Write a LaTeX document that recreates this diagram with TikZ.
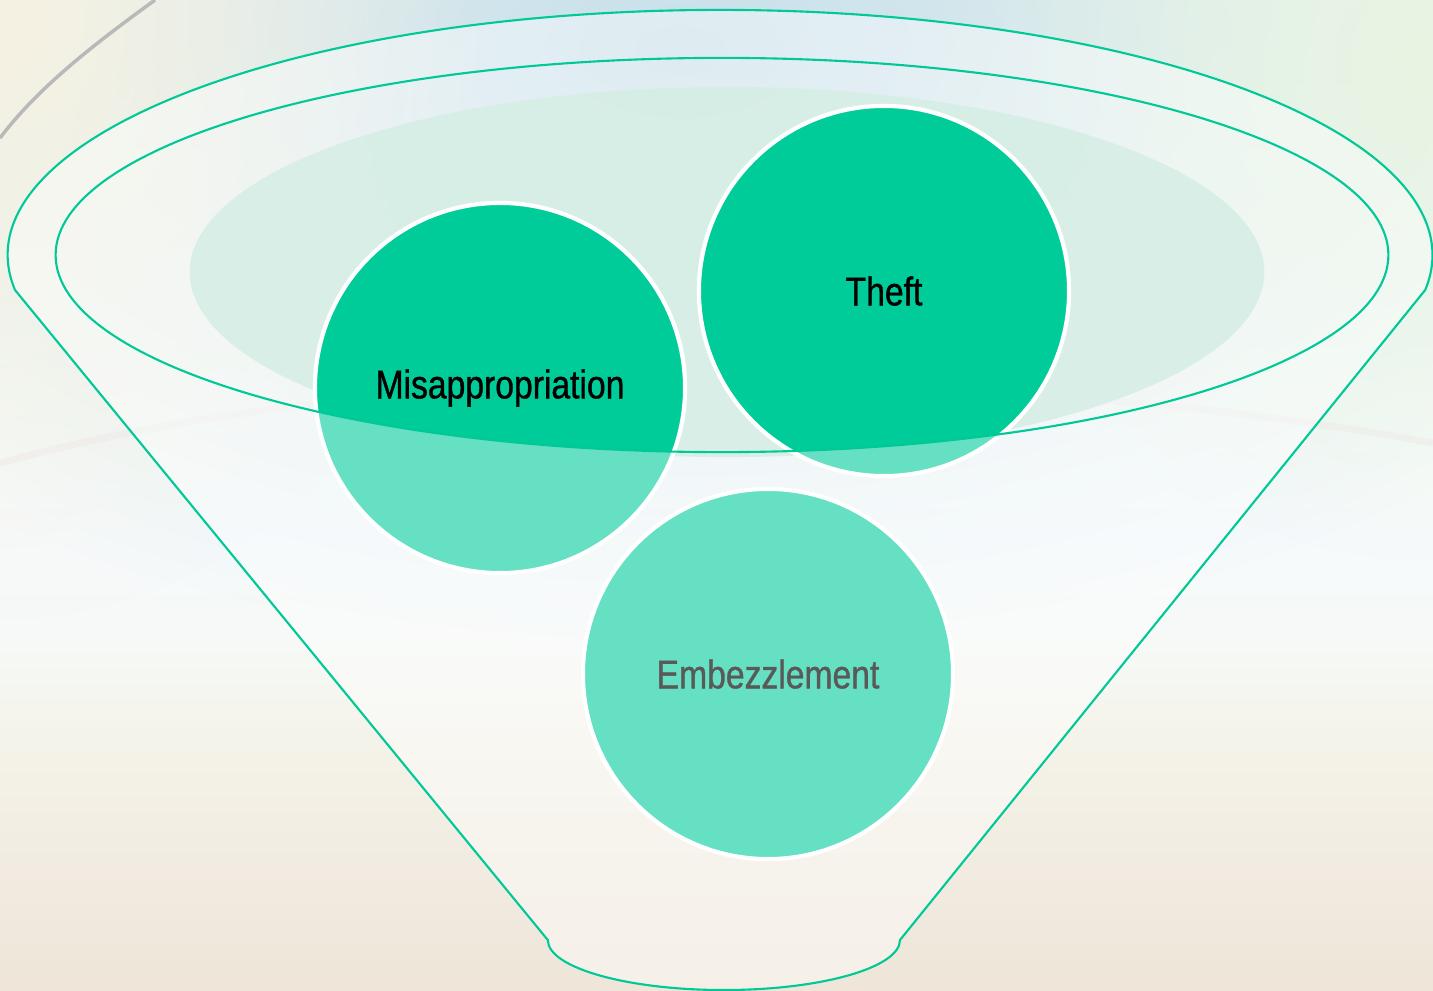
\documentclass[tikz,border=0pt]{standalone}
\usepackage{fontspec}
\usetikzlibrary{fadings}
\newfontfamily\narrowsans{Liberation Sans}[FakeStretch=0.84, FakeBold=0.9]
\definecolor{rimgreen}{HTML}{00C896}
\definecolor{deepgreen}{HTML}{00CC99}
\definecolor{palegreen}{HTML}{66E0C2}
\definecolor{mistgreen}{HTML}{D6EEE5}
\definecolor{textgray}{HTML}{595959}
\definecolor{skytop}{RGB}{243,248,247}
\definecolor{skyhigh}{RGB}{250,252,249}
\definecolor{skymid}{RGB}{246,250,252}
\definecolor{skylow}{RGB}{246,249,246}
\definecolor{sandhigh}{RGB}{244,242,232}
\definecolor{sandmid}{RGB}{241,235,225}
\definecolor{sandbottom}{RGB}{239,229,217}
\definecolor{skyblue}{RGB}{200,224,234}
\definecolor{leafpale}{RGB}{232,245,226}
\definecolor{cream}{RGB}{246,242,226}
\definecolor{haze}{RGB}{236,230,226}

% the rectangle takes up 25bp..75bp of the shading
\pgfdeclareverticalshading{backdrop}{100bp}{color(0bp)=(sandbottom); color(25bp)=(sandbottom);
  color(31bp)=(sandmid); color(37bp)=(sandhigh); color(42.5bp)=(skylow);
  color(47.5bp)=(skymid); color(55bp)=(skyhigh); color(75bp)=(skytop); color(100bp)=(skytop)}
\tikzfading[name=softglow, inner color=transparent!0, outer color=transparent!100]

\begin{document}
\begin{tikzpicture}[inner sep=0mm, x=0.01cm, y=-0.01cm,
    rim/.style={draw=rimgreen, line width=0.6pt},
    glow/.style={path fading=softglow},
    disc/.style={circle, minimum size=3.7cm, fill=palegreen, draw=white,
      line width=1.2pt, font=\narrowsans\fontsize{11.4}{13}\selectfont,
      path picture={\fill[deepgreen] (rimc) ellipse [x radius=6.66cm, y radius=1.97cm];}}]
  \useasboundingbox (0,0) rectangle (1433,991);

  % backdrop
  \shade[shading=backdrop] (0,0) rectangle (1433,991);
  \begin{scope}
    \clip (0,0) rectangle (1433,991);
    \fill[skyblue, glow] (680,50) ellipse [x radius=11cm, y radius=6cm];
    \fill[leafpale, glow] (1433,60) ellipse [x radius=5cm, y radius=5cm];
    \fill[cream, glow] (0,20) ellipse [x radius=5cm, y radius=6cm];
  \end{scope}
  \draw[gray!55, line width=1pt] (155,0) .. controls (100,40) and (40,85) .. (0,138);
  \draw[haze, line width=2pt, opacity=0.4]
    (0,463) .. controls (250,395) and (500,385) .. (715,385)
    .. controls (950,385) and (1200,400) .. (1433,443);

  \coordinate (rimc) at (722,255);

  % funnel body
  \filldraw[rim, fill=white, fill opacity=0.4]
    (15,290) arc [start angle=188.2, end angle=-8.2, x radius=7.12cm, y radius=2.45cm]
    -- (900,940) arc [start angle=0, end angle=-180, x radius=1.76cm, y radius=0.5cm]
    -- cycle;
  \fill[mistgreen, opacity=0.9] (727,272) ellipse [x radius=5.37cm, y radius=1.85cm];

  % the three kinds
  \foreach \name/\x/\y/\txt/\col in {mis/500/388/Misappropriation/black,
      theft/884/291/Theft/black, emb/768/674/Embezzlement/textgray} {
    \node[disc, text=\col] (\name) at (\x,\y) {\txt};
  }

  % rim over the discs
  \draw[rim] (rimc) ellipse [x radius=6.66cm, y radius=1.97cm];
\end{tikzpicture}
\end{document}
